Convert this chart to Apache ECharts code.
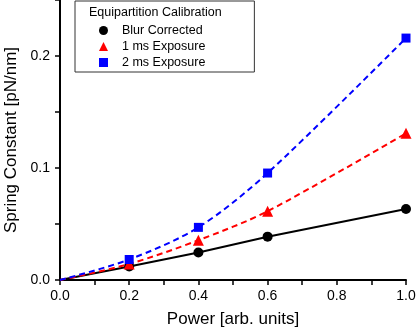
<!DOCTYPE html>
<html>
<head>
<meta charset="utf-8">
<script src="https://cdn.jsdelivr.net/npm/echarts@6/dist/echarts.min.js"></script>
<style>
  html, body { margin: 0; padding: 0; background: #fff; }
  #chart { width: 416px; height: 332px; }
</style>
</head>
<body>
<div id="chart"></div>
<script>
// power values (arb. units)
const power = [0.2, 0.4, 0.6, 1.0];
// spring constants [pN/nm]
const blurCorrected = [0.012, 0.0245, 0.0387, 0.0634];
const exposure1ms = [0.0143, 0.0355, 0.0614, 0.131];
const exposure2ms = [0.0183, 0.047, 0.0955, 0.216];
// fit curves start at the origin
const origin = [0, 0];

const pairs = (ys) => power.map((x, i) => [x, ys[i]]);
const withOrigin = (ys) => [origin].concat(pairs(ys));

const font = 'Liberation Sans, Arial, sans-serif';
const chart = echarts.init(document.getElementById('chart'));

// only label the 0.1 steps
const tickFmt = (v) => (Math.abs(v * 10 - Math.round(v * 10)) < 1e-6 ? v.toFixed(1) : '');

const option = {
  animation: false,
  textStyle: { fontFamily: font },
  grid: { left: 60, right: 10, top: 0, bottom: 52, containLabel: false, outerBoundsMode: 'none' },
  title: {
    text: 'Equipartition Calibration',
    left: 89, top: 6, padding: 0,
    textStyle: { fontSize: 12.5, fontWeight: 'normal', color: '#000', fontFamily: font }
  },
  legend: {
    orient: 'vertical',
    left: 75, top: 1,
    padding: [23, 49, 3, 24],
    itemGap: 3,
    itemWidth: 9, itemHeight: 9,
    borderColor: '#333', borderWidth: 1,
    textStyle: { fontSize: 12.5, color: '#000', padding: [0, 0, 0, 9] },
    data: [
      { name: 'Blur Corrected', icon: 'circle' },
      { name: '1 ms Exposure', icon: 'triangle' },
      { name: '2 ms Exposure', icon: 'rect' }
    ]
  },
  xAxis: {
    type: 'value', min: 0, max: 1.0, interval: 0.2,
    name: 'Power [arb. units]', nameLocation: 'middle', nameGap: 31,
    nameTextStyle: { fontSize: 17, color: '#000' },
    axisLine: { onZero: false, lineStyle: { color: '#000', width: 2 } },
    axisTick: { inside: false, length: 5, lineStyle: { width: 1.5 } },
    minorTick: { show: true, splitNumber: 2, length: 5, lineStyle: { color: '#000', width: 1.5 } },
    axisLabel: { fontSize: 14, color: '#000', margin: 9, formatter: tickFmt },
    splitLine: { show: false }
  },
  yAxis: {
    type: 'value', min: 0, max: 0.25, interval: 0.1,
    name: 'Spring Constant [pN/nm]', nameLocation: 'middle', nameGap: 38,
    nameTextStyle: { fontSize: 17, color: '#000' },
    axisLine: { show: true, onZero: false, lineStyle: { color: '#000', width: 2 } },
    axisTick: { show: true, inside: false, length: 5, lineStyle: { width: 1.5 } },
    minorTick: { show: true, splitNumber: 2, length: 5, lineStyle: { color: '#000', width: 1.5 } },
    axisLabel: { fontSize: 14, color: '#000', margin: 10, showMaxLabel: false, formatter: tickFmt },
    splitLine: { show: false }
  },
  series: [
    // fit lines
    {
      type: 'line', data: withOrigin(blurCorrected), showSymbol: false, smooth: false,
      lineStyle: { color: '#000', width: 2 }, silent: true, z: 1
    },
    {
      type: 'line', data: withOrigin(exposure1ms), showSymbol: false, smooth: 0.3,
      lineStyle: { color: '#ff0000', width: 2, type: [6, 4] }, silent: true, z: 1
    },
    {
      type: 'line', data: withOrigin(exposure2ms), showSymbol: false, smooth: 0.3,
      lineStyle: { color: '#0000ff', width: 2, type: [6, 4] }, silent: true, z: 1
    },
    // data points
    {
      name: 'Blur Corrected', type: 'scatter', data: pairs(blurCorrected),
      symbol: 'circle', symbolSize: 10, itemStyle: { color: '#000', opacity: 1 }, z: 3
    },
    {
      name: '1 ms Exposure', type: 'scatter', data: pairs(exposure1ms),
      symbol: 'triangle', symbolSize: 11, itemStyle: { color: '#ff0000', opacity: 1 }, z: 3
    },
    {
      name: '2 ms Exposure', type: 'scatter', data: pairs(exposure2ms),
      symbol: 'rect', symbolSize: 9, itemStyle: { color: '#0000ff', opacity: 1 }, z: 3
    }
  ]
};

chart.setOption(option);
</script>
</body>
</html>
